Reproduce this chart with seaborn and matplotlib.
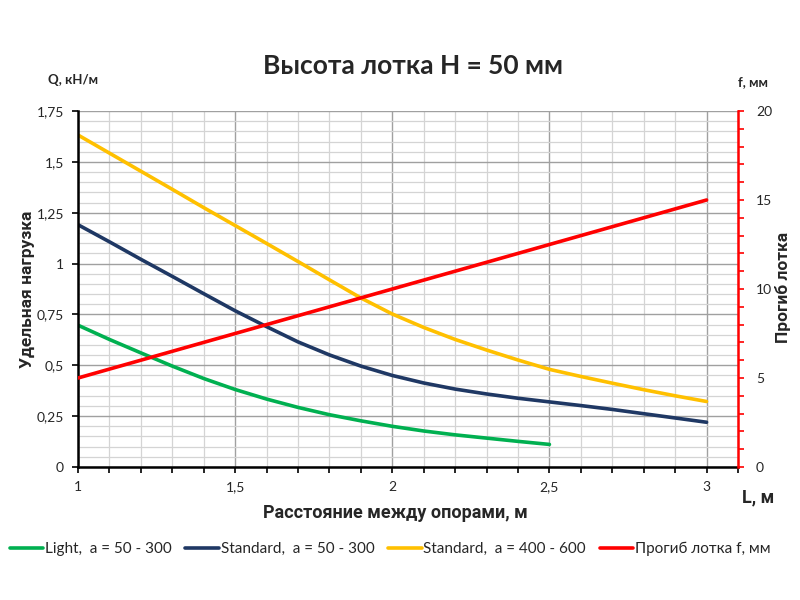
import matplotlib
matplotlib.use("Agg")
import matplotlib.pyplot as plt
import matplotlib.ticker as mticker
import seaborn as sns
import pandas as pd

# ---- data ----
L_light = [1.0, 1.1, 1.2, 1.3, 1.4, 1.5, 1.6, 1.7, 1.8, 1.9, 2.0, 2.1, 2.2, 2.3, 2.4, 2.5]
q_light = [0.697, 0.627, 0.561, 0.496, 0.435, 0.381, 0.334, 0.293, 0.257, 0.227, 0.200,
           0.177, 0.158, 0.142, 0.126, 0.111]

L_std = [1.0, 1.1, 1.2, 1.3, 1.4, 1.5, 1.6, 1.7, 1.8, 1.9, 2.0, 2.1, 2.2, 2.3, 2.4, 2.5,
         2.6, 2.7, 2.8, 2.9, 3.0]
q_std_small = [1.191, 1.107, 1.021, 0.937, 0.852, 0.768, 0.690, 0.615, 0.551, 0.496, 0.450,
               0.413, 0.383, 0.359, 0.338, 0.320, 0.302, 0.283, 0.262, 0.241, 0.220]
q_std_large = [1.632, 1.543, 1.454, 1.365, 1.275, 1.187, 1.099, 1.010, 0.920, 0.831, 0.752,
               0.686, 0.627, 0.575, 0.526, 0.480, 0.445, 0.412, 0.380, 0.350, 0.322]

L_defl = [1.0, 1.5, 2.0, 2.5, 3.0]
f_defl = [5.0, 7.5, 10.0, 12.5, 15.0]

labels = ["Light,  a = 50 - 300", "Standard,  a = 50 - 300",
          "Standard,  a = 400 - 600", "Прогиб лотка f, мм"]
colors = ["#00B050", "#1F3864", "#FFC000", "#FF0000"]

title = "Высота лотка H = 50 мм"
x_ticks = [1.0, 1.5, 2.0, 2.5, 3.0]
y_ticks = [0, 0.25, 0.5, 0.75, 1.0, 1.25, 1.5, 1.75]
y2_ticks = [0, 5, 10, 15, 20]

sns.set_theme(style="white")
plt.rcParams['font.family'] = ['Lato', 'DejaVu Sans']
narrow = ['Liberation Sans Narrow', 'Roboto', 'DejaVu Sans']

fig = plt.figure(figsize=(8, 6), dpi=100)
ax = fig.add_axes([78/800, 1 - 467/600, 660/800, 356/600])
ax2 = ax.twinx()

def comma(v, pos):
    s = f"{v:g}"
    return s.replace('.', ',')

# grid
ax.set_xlim(1.0, 3.1)
ax.set_ylim(0, 1.75)
ax.xaxis.set_major_locator(mticker.FixedLocator(x_ticks))
ax.xaxis.set_minor_locator(mticker.MultipleLocator(0.1))
ax.yaxis.set_major_locator(mticker.FixedLocator(y_ticks))
ax.yaxis.set_minor_locator(mticker.MultipleLocator(0.05))
ax.xaxis.set_major_formatter(mticker.FuncFormatter(comma))
ax.yaxis.set_major_formatter(mticker.FuncFormatter(comma))
ax.grid(which='minor', color='#D4D4D4', linewidth=0.9, linestyle='-')
ax.grid(which='major', color='#A0A0A0', linewidth=1.0, linestyle='-')
ax.set_axisbelow(True)

d1 = pd.DataFrame({"L": L_light, "q": q_light})
d2 = pd.DataFrame({"L": L_std, "q": q_std_small})
d3 = pd.DataFrame({"L": L_std, "q": q_std_large})
d4 = pd.DataFrame({"L": L_defl, "f": f_defl})

lw = 2.6
sns.lineplot(data=d1, x="L", y="q", ax=ax, color=colors[0], linewidth=lw, label=labels[0], legend=False)
sns.lineplot(data=d2, x="L", y="q", ax=ax, color=colors[1], linewidth=lw, label=labels[1], legend=False)
sns.lineplot(data=d3, x="L", y="q", ax=ax, color=colors[2], linewidth=lw, label=labels[2], legend=False)
sns.lineplot(data=d4, x="L", y="f", ax=ax2, color=colors[3], linewidth=lw, label=labels[3], legend=False)

ax2.set_ylim(0, 20)
ax2.yaxis.set_major_locator(mticker.FixedLocator(y2_ticks))
ax2.yaxis.set_minor_locator(mticker.MultipleLocator(1))
ax2.grid(False)
ax.set_xlabel("")
ax.set_ylabel("")
ax2.set_ylabel("")

ax.spines['top'].set_visible(False)
ax2.spines['top'].set_visible(False)
ax.spines['right'].set_visible(False)
ax2.spines['left'].set_visible(False)
ax2.spines['bottom'].set_visible(False)
ax.spines['left'].set_color('black')
ax.spines['left'].set_linewidth(1.8)
ax.spines['bottom'].set_color('black')
ax.spines['bottom'].set_linewidth(1.8)
ax2.spines['right'].set_color('#FF0000')
ax2.spines['right'].set_linewidth(1.8)

ax.tick_params(axis='x', which='both', bottom=True, direction='out', length=4, width=1.2,
               color='black', labelsize=10, pad=6)
ax.tick_params(axis='y', which='major', left=True, direction='out', length=4, width=1.2,
               color='black', labelsize=10, pad=6)
ax.tick_params(axis='y', which='minor', left=False)
ax2.tick_params(axis='y', which='both', right=True, direction='out', length=4, width=1.2,
                color='#FF0000', labelsize=10, pad=9)

fig.text(413/800, 1 - 66/600, title, ha='center', va='center', fontsize=19, fontweight='bold')
fig.text(73/800, 1 - 80/600, "Q, кН/м", ha='center', va='center', fontsize=9.5, fontweight='bold')
fig.text(753/800, 1 - 82/600, "f, мм", ha='center', va='center', fontsize=9.5, fontweight='bold')
fig.text(758/800, 1 - 497/600, "L, м", ha='center', va='center', fontsize=13,
         fontweight='bold', family=narrow)
fig.text(395/800, 1 - 513/600, "Расстояние между опорами, м", ha='center', va='center',
         fontsize=13, fontweight='bold', family=narrow)
fig.text(27/800, 1 - 289/600, "Удельная нагрузка", ha='center', va='center', rotation=90,
         fontsize=12.5, fontweight='bold', family=narrow)
fig.text(783/800, 1 - 287/600, "Прогиб лотка", ha='center', va='center', rotation=90,
         fontsize=12.5, fontweight='bold', family=narrow)

h1, l1 = ax.get_legend_handles_labels()
h2, l2 = ax2.get_legend_handles_labels()
fig.legend(h1 + h2, l1 + l2, loc='center', bbox_to_anchor=(390/800, 1 - 549/600), ncol=4,
           frameon=False, fontsize=11, handlelength=2.2, handletextpad=0.1,
           columnspacing=0.9)

fig.savefig("out.png", dpi=100)
